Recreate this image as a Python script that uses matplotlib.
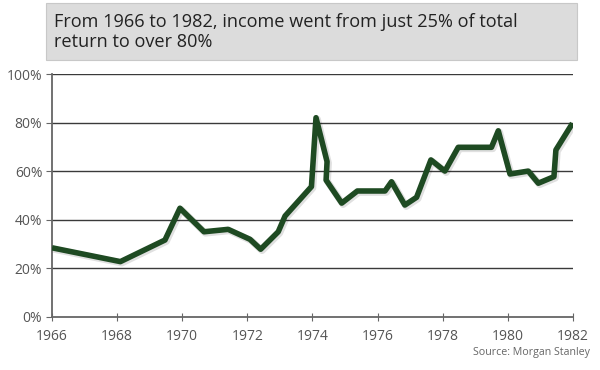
import matplotlib
matplotlib.use("Agg")
import matplotlib.pyplot as plt
import matplotlib.patheffects as pe
from matplotlib.patches import Rectangle

plt.rcParams['font.family'] = ['Open Sans', 'DejaVu Sans']

# share of total return coming from income
years = [1966.0, 1968.1, 1969.47, 1969.93, 1970.67, 1971.41, 1972.08, 1972.41,
         1972.95, 1973.16, 1973.97, 1974.11, 1974.45, 1974.42, 1974.9, 1975.38,
         1976.23, 1976.43, 1976.84, 1977.2, 1977.64, 1978.07, 1978.48, 1979.5,
         1979.71, 1980.07, 1980.63, 1980.94, 1981.42, 1981.48, 1981.99]
income_share = [28.4, 22.7, 31.6, 44.7, 35.0, 36.0, 31.9, 27.8,
                35.0, 41.5, 53.6, 82.0, 63.9, 56.3, 46.8, 51.8,
                51.8, 55.6, 46.0, 49.2, 64.6, 60.0, 69.8, 69.8,
                76.6, 58.8, 60.0, 55.0, 57.7, 68.7, 79.7]

x_ticks = list(range(1966, 1983, 2))
y_ticks = [0, 20, 40, 60, 80, 100]
title = "From 1966 to 1982, income went from just 25% of total\nreturn to over 80%"
source = "Source: Morgan Stanley"

fig = plt.figure(figsize=(6, 3.7), dpi=100)
ax = fig.add_axes([0.0867, 0.144, 0.868, 0.656])

# title box
fig.patches.append(Rectangle((46 / 600, 1 - 60 / 370), 531 / 600, 57 / 370,
                             transform=fig.transFigure, facecolor='#dcdcdc',
                             edgecolor='#c8c8c8', lw=0.8))
fig.text(54 / 600, 1 - 32 / 370, title, fontsize=13.1, color='#222222',
         va='center', ha='left', linespacing=1.15)

for yv in y_ticks[1:]:
    ax.axhline(yv, color='#3a3a3a', lw=1.0, zorder=1)

ax.plot(years, income_share, color='#1e4a22', lw=4, solid_joinstyle='round',
        solid_capstyle='butt', zorder=3,
        path_effects=[pe.SimpleLineShadow(offset=(1, -1), shadow_color='#000000', alpha=0.12, linewidth=5),
                      pe.Normal()])

ax.set_xlim(1966, 1982)
ax.set_ylim(0, 100)
ax.set_xticks(x_ticks)
ax.set_yticks(y_ticks)
ax.set_yticklabels([f"{v}%" for v in y_ticks])
for s in ['top', 'right']:
    ax.spines[s].set_visible(False)
for s in ['left', 'bottom']:
    ax.spines[s].set_color('#666666')
    ax.spines[s].set_linewidth(1.3)
ax.tick_params(axis='x', direction='inout', length=6, color='#666666', labelcolor='#555555',
               labelsize=10, pad=6)
ax.tick_params(axis='y', direction='out', length=4, color='#666666', labelcolor='#555555',
               labelsize=10, pad=3)

fig.text(590 / 600, 1 - 352 / 370, source, fontsize=7.7, color='#666666', ha='right', va='center')

fig.savefig("out.png", dpi=100)
